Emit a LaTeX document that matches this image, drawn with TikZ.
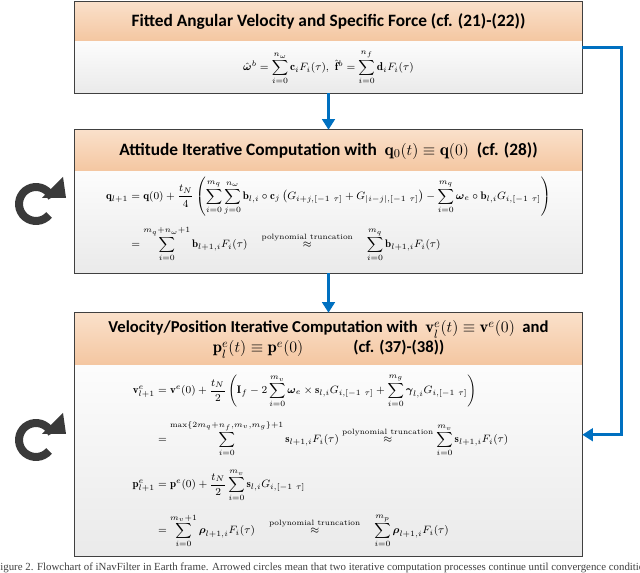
\documentclass[tikz,border=0pt]{standalone}
\usepackage{amsmath}
\usepackage{fontspec}
\newfontfamily\hdrfont{Carlito}
\newfontfamily\capfont{Liberation Serif}
\usetikzlibrary{arrows.meta}
\definecolor{flowblue}{RGB}{0,112,192}
\definecolor{peachtop}{RGB}{250,224,202}
\definecolor{peachbot}{RGB}{244,198,160}
\definecolor{bodytop}{RGB}{252,252,252}
\definecolor{bodybot}{RGB}{234,234,234}
\definecolor{framegray}{RGB}{64,64,64}
\definecolor{icongray}{RGB}{58,58,58}
\newcommand{\trunc}{\overset{\text{polynomial truncation}}{\approx}}
\newcommand{\Gint}[1]{G_{#1,[-1\ \tau]}}

\begin{document}
\begin{tikzpicture}
		[x=0.75pt,y=-0.75pt,
		 hdr/.style={minimum width=380.25pt,inner sep=0pt,top color=peachtop,bottom color=peachbot,
		   font=\hdrfont\bfseries\fontsize{13}{15.5}\selectfont,align=center},
		 body/.style={minimum width=380.25pt,inner sep=0pt,top color=bodytop,bottom color=bodybot},
		 frame/.style={draw=framegray,line width=1.1pt},
		 flow/.style={draw=flowblue,line width=2.2pt,-{Triangle[width=9.5pt,length=8pt]}},
		 eqn/.style={inner sep=0pt,font=\fontsize{8.2}{10}\selectfont}]
		\clip (0,0) rectangle (640,573);
		% boxes
		\node [hdr,minimum height=30pt](h1) at (328.5,22) {Fitted Angular Velocity and Specific Force (cf. (21)-(22))};
		\node [body,minimum height=38.25pt](b1) at (328.5,67.5) {};
		\node [hdr,minimum height=31.5pt](h2) at (328.5,151) {Attitude Iterative Computation with \ $\mathbf{q}_0(t)\equiv\mathbf{q}(0)$\ \ (cf. (28))};
		\node [body,minimum height=75.75pt](b2) at (328.5,222.5) {};
		\node [hdr,minimum height=39.75pt,font=\hdrfont\bfseries\fontsize{12.5}{15}\selectfont](h3) at (328.5,339.5) {Velocity/Position Iterative Computation with \ $\mathbf{v}_l^e(t)\equiv\mathbf{v}^e(0)$ \ and\\
		  $\mathbf{p}_l^e(t)\equiv\mathbf{p}^e(0)$\qquad\quad (cf. (37)-(38))};
		\node [body,minimum height=142.5pt](b3) at (328.5,461) {};
		\draw [frame] (h1.north west) rectangle (b1.south east);
		\draw [frame] (h2.north west) rectangle (b2.south east);
		\draw [frame] (h3.north west) rectangle (b3.south east);
		% equations
		\node [eqn,font=\fontsize{8.5}{10}\selectfont](e1) at (b1.center) {$\hat{\boldsymbol{\omega}}^b=\displaystyle\sum_{i=0}^{n_\omega}\mathbf{c}_iF_i(\tau),\ \hat{\mathbf{f}}^b=\sum_{i=0}^{n_f}\mathbf{d}_iF_i(\tau)$};
		\node [eqn](e2) at ([yshift=2pt]b2.center) {$\begin{aligned}
		  \mathbf{q}_{l+1}&=\mathbf{q}(0)+\frac{t_N}{4}\left(\sum_{i=0}^{m_q}\sum_{j=0}^{n_\omega}\mathbf{b}_{l,i}\circ\mathbf{c}_j\left(\Gint{i+j}+\Gint{|i-j|}\right)-\sum_{i=0}^{m_q}\boldsymbol{\omega}_e\circ\mathbf{b}_{l,i}\Gint{i}\right)\\[4pt]
		  &=\sum_{i=0}^{m_q+n_\omega+1}\mathbf{b}_{l+1,i}F_i(\tau)\quad\trunc\quad\sum_{i=0}^{m_q}\mathbf{b}_{l+1,i}F_i(\tau)
		\end{aligned}$};
		\node [eqn](e3) at ([xshift=-6pt]b3.center) {$\begin{aligned}
		  \mathbf{v}^e_{l+1}&=\mathbf{v}^e(0)+\frac{t_N}{2}\left(\mathbf{I}_f-2\sum_{i=0}^{m_v}\boldsymbol{\omega}_e\times\mathbf{s}_{l,i}\Gint{i}+\sum_{i=0}^{m_g}\boldsymbol{\gamma}_{l,i}\Gint{i}\right)\\[5pt]
		  &=\sum_{i=0}^{\max\{2m_q+n_f,m_v,m_g\}+1}\mathbf{s}_{l+1,i}F_i(\tau)\trunc\sum_{i=0}^{m_v}\mathbf{s}_{l+1,i}F_i(\tau)\\[5pt]
		  \mathbf{p}^e_{l+1}&=\mathbf{p}^e(0)+\frac{t_N}{2}\sum_{i=0}^{m_v}\mathbf{s}_{l,i}\Gint{i}\\[5pt]
		  &=\sum_{i=0}^{m_v+1}\boldsymbol{\rho}_{l+1,i}F_i(\tau)\quad\trunc\quad\sum_{i=0}^{m_p}\boldsymbol{\rho}_{l+1,i}F_i(\tau)
		\end{aligned}$};
		% connectors
		\draw [flow] (b1.south) -- (h2.north);
		\draw [flow] (b2.south) -- (h3.north);
		\draw [flow] ([yshift=-4.5pt]b1.north east) -- ++(39,0) |- ([yshift=-51.75pt]b3.north east);
		% loop icons
		\foreach \cy in {204,440} {
		  \draw [icongray,line width=6pt] (36,\cy) ++(40:17) arc[start angle=40,end angle=338,radius=17];
		  \fill [icongray] (36,\cy) ++(6,-6) -- ++(24,0) -- ++(-3,-21) -- cycle;
		}
		\node [anchor=base west,inner sep=0pt,font=\capfont\fontsize{8.15}{10}\selectfont,text=black!75](cap) at (-6,571)
		  {Figure 2. Flowchart of iNavFilter in Earth frame. Arrowed circles mean that two iterative computation processes continue until convergence conditions are met.};
	\end{tikzpicture}
\end{document}
